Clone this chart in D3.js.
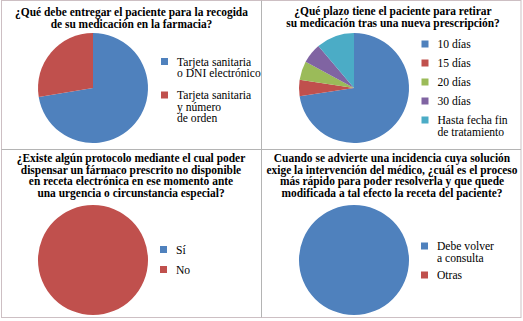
<!DOCTYPE html>
<html><head><meta charset="utf-8">
<script src="https://cdn.jsdelivr.net/npm/d3@7"></script>
<style>body{margin:0;background:#fff}svg{display:block}</style>
</head><body>
<script>
// ---- data ----
const title1 = ["¿Qué debe entregar el paciente para la recogida", "de su medicación en la farmacia?"];
const cats1 = ["Tarjeta sanitaria|o DNI electrónico", "Tarjeta sanitaria|y número|de orden"];
const vals1 = [72.4, 27.6];

const title2 = ["¿Qué plazo tiene el paciente para retirar", "su medicación tras una nueva prescripción?"];
const cats2 = ["10 días", "15 días", "20 días", "30 días", "Hasta fecha fin|de tratamiento"];
const vals2 = [72.6, 4.8, 5.5, 5.9, 11.2];

const title3 = ["¿Existe algún protocolo mediante el cual poder", "dispensar un fármaco prescrito no disponible", "en receta electrónica en ese momento ante", "una urgencia o circunstancia especial?"];
const cats3 = ["Sí", "No"];
const vals3 = [0, 100];

const title4 = ["Cuando se advierte una incidencia cuya solución", "exige la intervención del médico, ¿cuál es el proceso", "más rápido para poder resolverla y que quede", "modificada a tal efecto la receta del paciente?"];
const cats4 = ["Debe volver|a consulta", "Otras"];
const vals4 = [100, 0];

const colors = ["#4F81BD", "#C0504D", "#9BBB59", "#8064A2", "#4BACC6"];

// ---- layout ----
const W = 523, H = 321;
const svg = d3.select("body").append("svg").attr("width", W).attr("height", H);

svg.append("rect").attr("x", 1.5).attr("y", 0.5).attr("width", 519.5).attr("height", 317)
  .attr("fill", "#fff").attr("stroke", "#cdbfc3").attr("stroke-width", 1);
svg.append("line").attr("x1", 261.5).attr("x2", 261.5).attr("y1", 0.5).attr("y2", 317.5).attr("stroke", "#b4b4b4");
svg.append("line").attr("x1", 1.5).attr("x2", 521).attr("y1", 149.5).attr("y2", 149.5).attr("stroke", "#b4b4b4");

const font = '"Liberation Serif", "Times New Roman", serif';

const panels = [
  {title: title1, cats: cats1, vals: vals1, tx: 131.5, ty: 16, tlh: 12, cx: 93, cy: 88, lx: 161, ly: [61.5, 95], lh: 11.7},
  {title: title2, cats: cats2, vals: vals2, tx: 393, ty: 15, tlh: 12, cx: 354, cy: 88, lx: 421.5, ly: [44, 63, 82, 101, 120], lh: 11.7},
  {title: title3, cats: cats3, vals: vals3, tx: 131, ty: 162, tlh: 11.7, cx: 93, cy: 260, lx: 160, ly: [249.5, 269.5], lh: 11.7},
  {title: title4, cats: cats4, vals: vals4, tx: 392, ty: 162, tlh: 11.7, cx: 354, cy: 260, lx: 421, ly: [246, 275], lh: 11.7}
];

const R = 55;
const pie = d3.pie().sort(null).value(d => d);
const arc = d3.arc().innerRadius(0).outerRadius(R);

panels.forEach(p => {
  const g = svg.append("g");
  const t = g.append("text").attr("text-anchor", "middle").style("font-family", font)
    .style("font-weight", "bold").style("font-size", "11.45px").attr("fill", "#000");
  p.title.forEach((line, i) => t.append("tspan").attr("x", p.tx).attr("y", p.ty + i * p.tlh).text(line));

  const pg = g.append("g").attr("transform", `translate(${p.cx},${p.cy})`);
  pg.selectAll("path").data(pie(p.vals).filter(d => d.value > 0)).join("path")
    .attr("d", arc).attr("fill", d => colors[d.index]);

  p.cats.forEach((c, i) => {
    const y = p.ly[i];
    g.append("rect").attr("x", p.lx).attr("y", y - 3.5).attr("width", 7).attr("height", 7).attr("fill", colors[i]);
    const lt = g.append("text").style("font-family", font).style("font-size", "11.6px").attr("fill", "#000");
    c.split("|").forEach((s, j) => lt.append("tspan").attr("x", p.lx + 16).attr("y", y + 4 + j * p.lh).text(s));
  });
});
</script>
</body></html>
